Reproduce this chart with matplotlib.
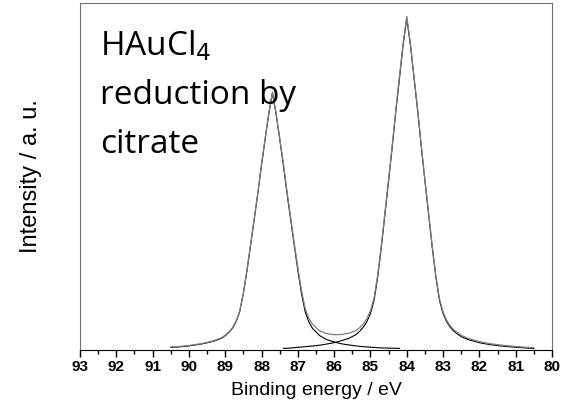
import numpy as np
import matplotlib
matplotlib.use('agg')
import matplotlib.pyplot as plt
from matplotlib.ticker import MultipleLocator

binding_energy = [90.5, 90.2, 90.0, 89.7, 89.5, 89.3, 89.1, 89.0, 88.9, 88.8,
                  88.7, 88.6, 88.5, 88.4, 88.3, 88.2, 88.1, 88.0, 87.9, 87.8,
                  87.7, 87.6, 87.5, 87.4, 87.3, 87.2, 87.1, 87.0, 86.9, 86.8,
                  86.7, 86.6, 86.4, 86.2, 86.0, 85.8, 85.6, 85.4, 85.3, 85.2,
                  85.1, 85.0, 84.9, 84.8, 84.7, 84.6, 84.5, 84.4, 84.3, 84.2,
                  84.1, 84.0, 83.9, 83.8, 83.7, 83.6, 83.5, 83.4, 83.3, 83.2,
                  83.1, 83.0, 82.9, 82.8, 82.7, 82.5, 82.3, 82.0, 81.7, 81.4,
                  81.0, 80.5]

# measured envelope (a.u.)
envelope = [3.0, 3.7, 4.5, 6.1, 7.6, 9.5, 12.3, 14.9, 18.0, 22.3,
            28.9, 39.1, 57.2, 80.4, 106, 132, 158, 186, 212, 237,
            258, 237, 212, 187, 159, 133, 107, 82.4, 59.5, 41.8,
            32.0, 25.8, 19.2, 16.3, 15.3, 15.5, 16.7, 19.4, 22.3, 25.9,
            31.3, 39.3, 52.4, 75.3, 105, 138, 171, 205, 241, 274,
            306.5, 333.5, 306.5, 273.5, 240.5, 204.5, 170.5, 137.5, 104.5, 74.5,
            51.3, 38.0, 29.6, 24.0, 20.0, 14.6, 11.5, 8.4, 6.3, 4.9,
            3.5, 2.2]

# Au 4f5/2 component (87.7 eV)
comp_4f52 = [2.6, 3.3, 4.1, 5.7, 7.2, 9.0, 11.8, 14.4, 17.5, 21.8,
             28.3, 38.5, 56.5, 79.7, 105, 131, 157, 185, 211, 236,
             257, 236, 211, 185, 157, 131, 105, 79.7, 56.5, 38.5,
             28.3, 21.8, 14.4, 10.3, 8.0, 6.2, 5.1, 4.1, 3.7, 3.3,
             3.1, 2.8, 2.6, 2.3, 2.1, 2.0, 1.9, 1.8, 1.7, 1.6,
             None, None, None, None, None, None, None, None, None, None,
             None, None, None, None, None, None, None, None, None, None,
             None, None]

# Au 4f7/2 component (84.0 eV)
comp_4f72 = [None, None, None, None, None, None, None, None, None, None,
             None, None, None, None, None, None, None, None, None, None,
             None, None, None, 1.7, 1.7, 2.0, 2.3, 2.7, 3.0, 3.3,
             3.7, 4.0, 4.8, 6.0, 7.3, 9.3, 11.6, 15.3, 18.6, 22.6,
             28.2, 36.5, 49.8, 73, 103, 136, 169, 203, 239, 272,
             305, 332, 305, 272, 239, 203, 169, 136, 103, 73,
             49.8, 36.5, 28.2, 22.6, 18.6, 13.3, 10.3, 7.3, 5.3, 4.0,
             2.7, 1.5]

x = np.array(binding_energy)
env = np.array(envelope, dtype=float)
c1 = np.array(comp_4f52, dtype=float)
c2 = np.array(comp_4f72, dtype=float)

fig = plt.figure(figsize=(5.68, 4.19), dpi=100)
ax = fig.add_axes([80 / 568, 1 - 350 / 419, 472 / 568, 347 / 419])

ax.plot(x, c1, color='black', lw=0.8)
ax.plot(x, c2, color='black', lw=0.8)
ax.plot(x, env, color='#7f7f7f', lw=0.9)

ax.set_xlim(93, 80)
ax.set_ylim(0, 347)
ax.xaxis.set_major_locator(MultipleLocator(1))
ax.xaxis.set_minor_locator(MultipleLocator(0.5))
ax.tick_params(axis='x', which='major', direction='out', length=5, width=1,
               labelsize=11, pad=2)
ax.tick_params(axis='x', which='minor', direction='out', length=3, width=1)
ax.set_yticks([])
for lab in ax.get_xticklabels():
    lab.set_fontweight('bold')
    lab.set_fontfamily('Liberation Sans')

for side in ['top', 'right', 'left']:
    ax.spines[side].set_color('#707070')
ax.spines['bottom'].set_color('black')

ax.set_xlabel("Binding energy / eV", family='Liberation Sans', fontsize=14, labelpad=6)
ax.set_ylabel("Intensity / a. u.", family='Liberation Sans', fontsize=17)
ax.yaxis.set_label_coords(-0.08, 0.5)

fig.text(100 / 568, 1 - 55 / 419, "HAuCl$_4$", family='Open Sans', fontsize=24, va='baseline')
fig.text(100 / 568, 1 - 104 / 419, "reduction by", family='Open Sans', fontsize=24, va='baseline')
fig.text(100 / 568, 1 - 153 / 419, "citrate", family='Open Sans', fontsize=24, va='baseline')

fig.savefig("out.png", dpi=100)
